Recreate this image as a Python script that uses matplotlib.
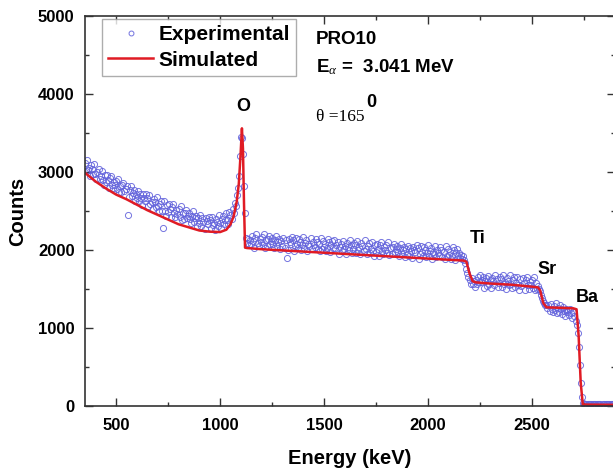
import numpy as np
import matplotlib
matplotlib.use("Agg")
import matplotlib.pyplot as plt
from matplotlib.ticker import MultipleLocator

plt.rcParams['font.family'] = ['Liberation Sans', 'DejaVu Sans']
plt.rcParams['mathtext.fontset'] = 'custom'
plt.rcParams['mathtext.rm'] = 'Liberation Serif'
plt.rcParams['mathtext.it'] = 'Liberation Serif:italic'

# ---- data ----
exp_start, exp_step = 350, 5   # channel calibration (keV)
exp_counts = [
    # 350-445
    3120, 3010, 3150, 3030, 3050, 2955, 3085, 3035, 2970, 3100,
    2980, 2910, 3000, 3035, 2905, 2945, 3015, 2895, 2830, 2960,
    # 450-545
    2870, 2963, 2896, 2799, 2922, 2955, 2838, 2791, 2874, 2827,
    2890, 2783, 2916, 2739, 2822, 2745, 2828, 2861, 2754, 2777,
    # 550-645
    2820, 2450, 2677, 2770, 2824, 2687, 2731, 2764, 2628, 2721,
    2665, 2758, 2622, 2715, 2669, 2572, 2716, 2669, 2633, 2716,
    # 650-745
    2670, 2564, 2709, 2593, 2618, 2522, 2657, 2611, 2546, 2680,
    2565, 2499, 2594, 2628, 2503, 2280, 2622, 2506, 2441, 2575,
    # 750-845
    2490, 2585, 2520, 2425, 2550, 2585, 2470, 2425, 2510, 2465,
    2530, 2425, 2560, 2385, 2470, 2395, 2480, 2515, 2410, 2435,
    # 850-945
    2480, 2396, 2342, 2438, 2494, 2360, 2406, 2442, 2308, 2404,
    2350, 2446, 2312, 2408, 2364, 2270, 2416, 2372, 2338, 2424,
    # 950-1045
    2380, 2278, 2426, 2315, 2345, 2256, 2398, 2360, 2304, 2448,
    2342, 2288, 2394, 2442, 2330, 2390, 2480, 2382, 2335, 2490,
    # 1050-1145
    2450, 2400, 2520, 2480, 2600, 2560, 2700, 2800, 2950, 3200,
    3450, 3430, 3230, 2820, 2480, 2150, 2090, 2140, 2070, 2130,
    # 1150-1245
    2080, 2180, 2120, 2030, 2160, 2200, 2090, 2050, 2140, 2100,
    2162, 2062, 2202, 2032, 2122, 2052, 2142, 2182, 2082, 2112,
    # 1250-1345
    2153, 2073, 2023, 2123, 2183, 2053, 2103, 2143, 2013, 2113,
    2055, 2155, 2025, 2125, 1900, 1995, 2145, 2105, 2075, 2165,
    # 1350-1445
    2126, 1986, 2046, 2156, 2076, 2026, 2146, 2106, 2006, 2066,
    2168, 2028, 2088, 2128, 1988, 2078, 2048, 2158, 2008, 2108,
    # 1450-1545
    2069, 2039, 2139, 2099, 2009, 2079, 1989, 2159, 2019, 2119,
    2041, 2081, 1991, 2031, 2141, 2101, 1971, 2061, 2121, 2021,
    # 1550-1645
    2122, 2032, 2062, 2102, 1952, 2042, 2082, 1982, 2112, 2012,
    2054, 1954, 2084, 2044, 1994, 2124, 2064, 1964, 2014, 2094,
    # 1650-1745
    2065, 1965, 2115, 2005, 2035, 1945, 2085, 2045, 1985, 2125,
    2007, 1947, 2047, 2087, 1967, 2017, 2097, 1987, 1927, 2067,
    # 1750-1845
    1978, 2078, 2018, 1928, 2058, 2098, 1988, 1948, 2038, 1998,
    2060, 1960, 2100, 1930, 2020, 1950, 2040, 2080, 1980, 2010,
    # 1850-1945
    2051, 1971, 1921, 2021, 2081, 1951, 2001, 2041, 1911, 2011,
    1953, 2053, 1923, 2023, 1983, 1893, 2043, 2003, 1973, 2063,
    # 1950-2045
    2024, 1884, 1944, 2054, 1974, 1924, 2044, 2004, 1904, 1964,
    2066, 1926, 1986, 2026, 1886, 1976, 1946, 2056, 1906, 2006,
    # 2050-2145
    1967, 1937, 2037, 1997, 1907, 1977, 1887, 2057, 1917, 2017,
    1939, 1979, 1889, 1929, 2039, 1999, 1869, 1959, 2019, 1919,
    # 2150-2245
    1960, 1900, 1940, 1880, 1920, 1870, 1830, 1760, 1700, 1650,
    1620, 1570, 1640, 1560, 1600, 1530, 1620, 1570, 1650, 1590,
    # 2250-2345
    1680, 1590, 1620, 1660, 1510, 1600, 1640, 1540, 1670, 1570,
    1615, 1515, 1645, 1605, 1555, 1685, 1625, 1525, 1575, 1655,
    # 2350-2445
    1625, 1525, 1675, 1565, 1595, 1505, 1645, 1605, 1545, 1685,
    1570, 1510, 1610, 1650, 1530, 1580, 1660, 1550, 1490, 1630,
    # 2450-2525
    1535, 1635, 1575, 1485, 1615, 1655, 1545, 1505, 1595, 1555,
    1615, 1515, 1655, 1485, 1575, 1505,
    # 2530-2575
    1540, 1500, 1470, 1420, 1380, 1340, 1320, 1290, 1300, 1260,
    # 2580-2715
    1290, 1220, 1310, 1250, 1200, 1280, 1230, 1320, 1190, 1260,
    1210, 1290, 1240, 1180, 1270, 1220, 1150, 1250, 1200, 1230,
    1170, 1240, 1190, 1130, 1210, 1160, 1090, 1040,
    # 2720-2745
    940, 760, 520, 300, 120, 40,
    # 2750-2900
    30, 22, 28, 18, 25, 20, 27, 23, 19, 26,
    21, 24, 17, 29, 22, 20, 25, 18, 23, 27,
    19, 22, 26, 20, 24, 18, 21, 25, 23, 19,
    22,
]
exp_energy = exp_start + exp_step * np.arange(len(exp_counts))

sim_energy = [350, 400, 450, 500, 550, 600, 650, 700, 750, 800, 850, 900,
              950, 1000, 1030, 1050, 1065, 1080, 1090, 1098, 1105, 1110,
              1115, 1120, 1130, 1200, 1300, 1400, 1500, 1600, 1700, 1800,
              1900, 2000, 2100, 2170, 2185, 2200, 2215, 2230, 2300, 2400,
              2500, 2530, 2540, 2555, 2570, 2600, 2650, 2700, 2715, 2725,
              2735, 2745, 2760, 2900]
sim_counts = [2990, 2880, 2790, 2710, 2650, 2580, 2510, 2450, 2390, 2330,
              2290, 2250, 2235, 2230, 2260, 2330, 2430, 2620, 2850, 3200,
              3560, 3300, 2600, 2030, 2025, 2010, 1995, 1980, 1965, 1950,
              1935, 1920, 1905, 1890, 1875, 1865, 1850, 1700, 1600, 1585,
              1570, 1555, 1530, 1520, 1480, 1320, 1265, 1262, 1258, 1252,
              1240, 900, 300, 20, 18, 15]

peak_labels = ["O", "Ti", "Sr", "Ba"]
peak_label_pos = [(1110, 3840), (2240, 2150), (2571, 1744), (2765, 1397)]

# ---- figure ----
fig = plt.figure(figsize=(6.13, 4.71), dpi=100)
ax = fig.add_axes([85/613, 65/471, 530/613, 390/471])

ax.plot(exp_energy, exp_counts, linestyle='none', marker='o', markersize=4.4,
        markerfacecolor='none', markeredgecolor='#6464dc', markeredgewidth=0.7,
        alpha=0.9, label='Experimental')
ax.plot(sim_energy, sim_counts, color='#e01b24', linewidth=1.8,
        label='Simulated')

ax.set_xlim(350, 2900)
ax.set_ylim(0, 5000)
ax.xaxis.set_major_locator(MultipleLocator(500))
ax.xaxis.set_minor_locator(MultipleLocator(250))
ax.yaxis.set_major_locator(MultipleLocator(1000))
ax.yaxis.set_minor_locator(MultipleLocator(500))
ax.tick_params(which='both', direction='in', top=True, right=True,
               color='#333333', width=1.0)
ax.tick_params(which='major', length=6, labelsize=12)
ax.tick_params(which='minor', length=3)
ax.tick_params(axis='x', which='major', pad=9)
ax.tick_params(axis='y', which='major', pad=7.5)
for lab in ax.get_xticklabels() + ax.get_yticklabels():
    lab.set_fontweight('bold')
for sp in ax.spines.values():
    sp.set_linewidth(1.2)
    sp.set_color('#333333')

ax.set_xlabel('Energy (keV)', fontsize=14.5, fontweight='bold', labelpad=11)
ax.set_ylabel('Counts', fontsize=14.5, fontweight='bold', labelpad=8)

leg = ax.legend(loc='upper left', bbox_to_anchor=(0.032, 0.993),
                prop={'weight': 'bold', 'size': 15}, frameon=True,
                fancybox=False, edgecolor='#999999', borderpad=0.3,
                handlelength=2.15, handletextpad=0.25, labelspacing=0.32,
                borderaxespad=0.0, markerscale=0.8)
leg.get_frame().set_linewidth(1.0)

for lab, (x, y) in zip(peak_labels, peak_label_pos):
    ax.text(x, y, lab, fontsize=13, fontweight='bold', ha='center', va='center')

ax.text(1460, 4705, 'PRO10', fontsize=13.5, fontweight='bold', va='center')
ax.text(1460, 4346, r'E$_{\alpha}$ =  3.041 MeV', fontsize=13.5,
        fontweight='bold', va='center')
ax.text(1460, 3705, '\u03b8 =165', fontsize=12.5, family='Liberation Serif',
        va='center')
ax.text(1702, 3890, '0', fontsize=13, fontweight='bold', va='center')

fig.savefig('out.png', dpi=100)
